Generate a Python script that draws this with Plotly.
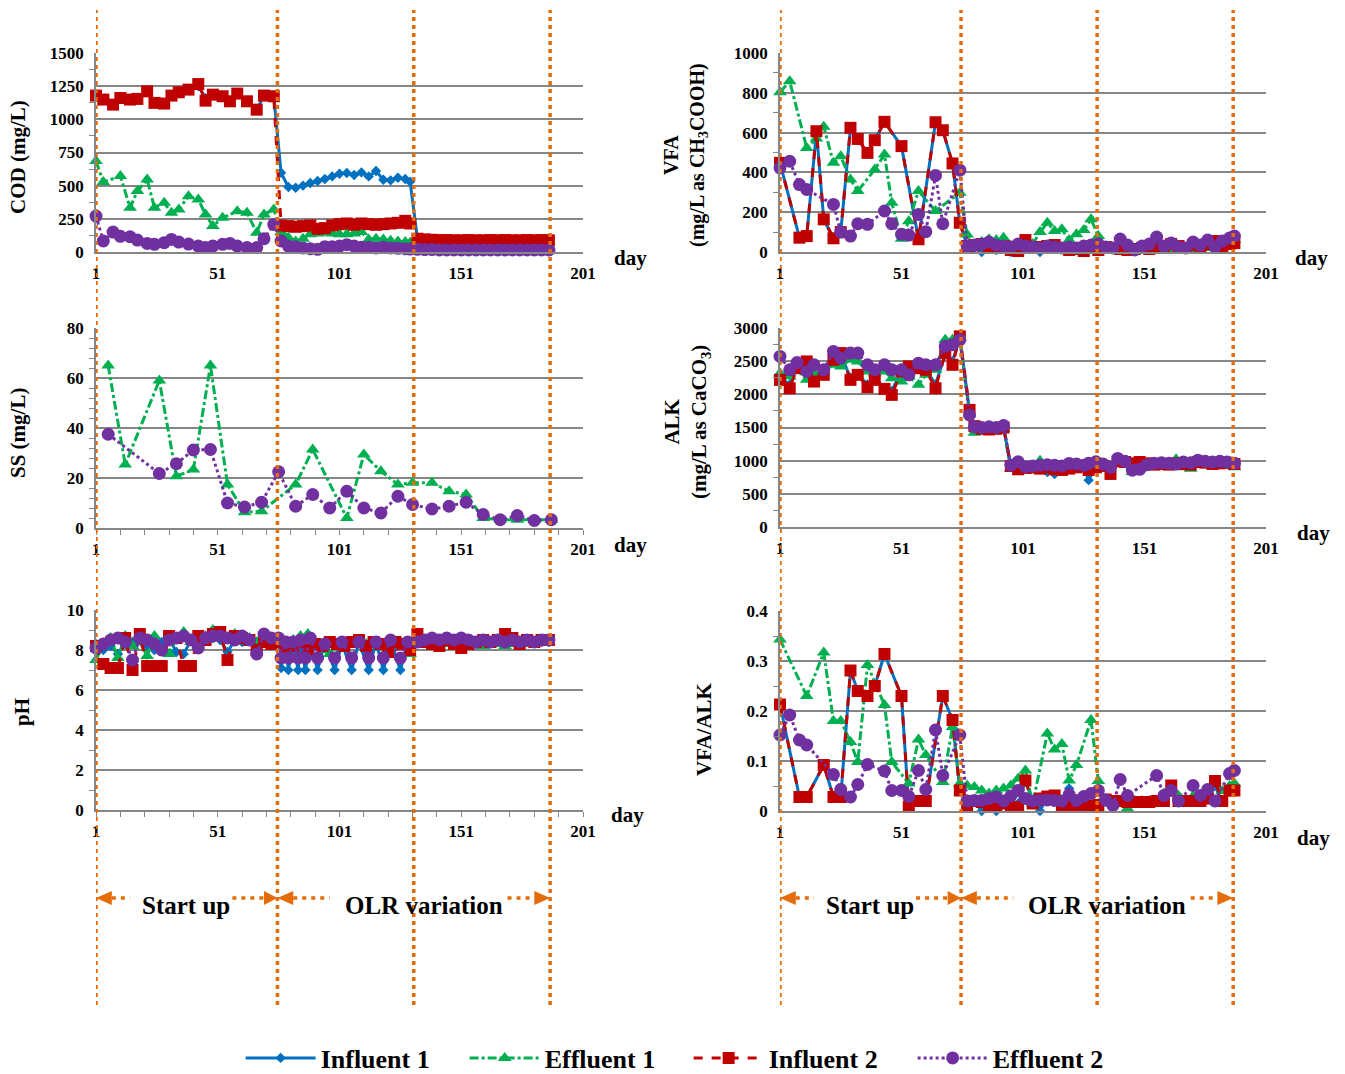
import plotly.graph_objects as go

FONT = "Liberation Serif"
BLUE, GREEN, RED, PURPLE = "#0070C0", "#00B050", "#C00000", "#7030A0"
ORANGE, GRID = "#E46C0A", "#868686"

# ---------------- COD ----------------
cod_days = [1, 4, 8, 11, 15, 18, 22, 25, 29, 32, 35, 39, 43, 46, 49, 53, 56, 59, 63, 67, 70, 74,
            77, 80, 83, 86, 89, 92, 95, 98, 101, 104, 107, 110, 113, 116, 119, 122, 125, 128, 130,
            133, 136, 139, 142, 145, 148, 151, 154, 157, 160, 163, 166, 169, 172, 175, 178, 181, 184, 187]
cod_inf1 = [1179, 1149, 1111, 1161, 1149, 1154, 1211, 1124, 1119, 1179, 1204, 1224, 1250, 1160, 1186, 1174, 1136, 1194, 1136, 1073, 1179, 1174,
            597, 490, 484, 500, 520, 535, 550, 570, 590, 595, 580, 600, 570, 610, 545, 540, 560, 550, 530,
            100, 95, 92, 90, 90, 88, 88, 90, 88, 88, 90, 88, 90, 88, 88, 90, 88, 90, 88]
cod_eff1 = [685, 527, None, 572, 334, 459, 547, 334, 371, 296, 320, 421, 396, 283, 196, 258, None, 308, 296, 145, 283, 321,
            150, 110, 80, 100, 133, 140, 145, 140, 133, 133, 140, 150, 95, 100, 95, 85, 80, 75, 70,
            30, 28, 25, 25, 22, 22, 25, 22, 20, 22, 20, 22, 20, 20, 22, 20, 20, 22, 20]
cod_inf2 = [1179, 1149, 1111, 1161, 1149, 1154, 1211, 1124, 1119, 1179, 1204, 1224, 1266, 1141, 1186, 1174, 1136, 1194, 1136, 1073, 1179, 1174,
            200, 195, 190, 195, 200, 175, 180, 200, 210, 215, 205, 215, 210, 205, 210, 215, 220, 235, 215,
            100, 95, 92, 90, 90, 88, 88, 90, 88, 88, 90, 88, 90, 88, 88, 90, 88, 90, 88]
cod_eff2 = [271, 83, 150, 118, 115, 90, 65, 58, 70, 95, 75, 60, 45, 33, 45, 58, 65, 45, 33, 33, 100, 208,
            83, 45, 40, 30, 25, 20, 40, 40, 45, 55, 45, 35, 35, 30, 35, 30, 28, 25, 22,
            20, 18, 18, 15, 15, 15, 15, 15, 15, 15, 15, 15, 15, 15, 15, 15, 15, 15, 15]

# ---------------- VFA ----------------
vfa_days = [1, 5, 9, 12, 16, 19, 23, 26, 30, 33, 37, 40, 44, 47, 51, 54, 58, 61, 65, 68, 72, 75,
            78, 81, 84, 87, 90, 93, 96, 99, 102, 105, 108, 111, 114, 117, 120, 123, 126, 129, 132,
            135, 138, 141, 144, 147, 150, 153, 156, 159, 162, 165, 168, 171, 174, 177, 180, 183, 186, 188]
vfa_inf1 = [448, None, 72, 80, 607, 164, 69, 100, 624, 568, 498, 562, 654, None, 532, None, 64, None, 652, 612, 445, 147,
            30, 20, 0, 25, 10, 30, 0, 5, 50, 20, 0, 30, 35, 20, 10, 15, 5, 20, 10,
            20, 20, 15, 10, 15, 20, 15, 30, 25, 40, 30, 20, 35, 30, 40, 55, 30, 40, 45]
vfa_eff1 = [803, 858, None, 523, 570, 630, 448, 481, 364, 306, None, 415, 490, 247, 67, 155, 306, None, 206, None, None, 298,
            88, 22, 50, 64, 60, 72, 30, 30, 25, 40, 100, 147, 105, 114, 60, 89, 110, 164, 80,
            20, 15, 10, 5, 10, 15, 20, 25, 20, 15, 30, 20, 15, 10, 20, 30, 40, 50, 60]
vfa_inf2 = [448, None, 72, 80, 607, 164, 69, 100, 624, 568, 498, 562, 654, None, 532, None, 64, None, 652, 612, 445, 147,
            30, 35, 40, 25, 20, 30, 10, 5, 60, 20, 25, 30, 35, 20, 10, 15, 5, 20, 10,
            25, 20, 15, 10, 15, 20, 15, 30, 25, 40, 30, 20, 35, 30, 40, 55, 30, 40, 45]
vfa_eff2 = [423, 456, 339, 314, None, None, 239, 100, 80, 142, 139, None, 206, 142, 89, 85, 189, 102, 385, 142, None, 411,
            30, 35, 40, 50, 35, 30, 25, 40, 30, 25, 20, 30, 25, 20, 25, 20, 30, 35, 40,
            25, 20, 65, 35, 10, 30, 40, 75, 30, 45, 25, 20, 50, 35, 60, 25, 55, 70, 80]

# ---------------- SS ----------------
ss_days = [6, 13, 20, 27, 34, 41, 48, 55, 62, 69, 76, 83, 90, 97, 104, 111, 118, 125, 131, 139, 146, 153, 160, 167, 174, 181, 188]
ss_eff1 = [65, 25.4, None, 59, 20.7, 23.4, 65, 17.4, 6.3, 6.7, None, 17.4, 31.4, None, 4, 29.4, 22.7, 17.4, 18.1, 18.1, 14.7, 13.4, 4, 3.3, 3.3, 3.3, 3.3]
ss_eff2 = [37.5, None, None, 21.8, 25.7, 31.2, 31.4, 10, 8.4, 10.3, 22.5, 8.7, 13.4, 8, 14.7, 8, 6, 12.7, 9.4, 7.6, 8.7, 10.3, 5.4, 3.3, 5, 3, 3.3]

# ---------------- ALK ----------------
alk_days = [1, 5, 8, 12, 15, 19, 23, 26, 30, 33, 37, 40, 44, 47, 51, 54, 58, 61, 65, 69, 72, 75,
            79, 81, 84, 87, 90, 93, 96, 99, 102, 105, 108, 111, 114, 117, 120, 123, 126, 128, 131,
            134, 137, 140, 143, 146, 149, 152, 155, 158, 161, 164, 167, 170, 173, 176, 179, 182, 185, 188]
alk_inf1 = [2250, 2150, 2400, 2480, 2300, 2330, 2500, 2600, 2250, 2300, 2150, 2250, 2100, 2050, 2350, 2420, 2400, 2380, 2150, 2600, 2500, 2850,
            1750, 1530, 1500, 1480, 1490, 1510, 900, 880, 900, 910, 890, 830, 800, 870, 890, 900, 910, 706, 920,
            930, 900, 980, 970, 950, 970, 950, 940, 950, 940, 960, 950, 940, 970, 960, 950, 960, 960, 950]
alk_eff1 = [2319, 2269, 2370, 2218, 2319, 2345, 2445, 2420, 2521, 2496, 2345, 2319, 2345, 2244, 2193, 2269, 2143, 2294, 2370, 2823, 2823, 2849,
            1700, 1420, 1500, 1480, 1490, 1480, 880, 900, 920, 850, 1000, 900, 880, 900, 870, 880, 920, 880, 930,
            900, 920, 960, 950, 830, 880, 920, 950, 960, 930, 1020, 900, 880, 960, 940, 950, 930, 920, 900]
alk_inf2 = [2218, 2092, 2395, 2496, 2193, 2294, 2521, 2622, 2218, 2294, 2108, 2218, 2082, 1992, 2345, 2420, 2395, 2370, 2092, 2622, 2445, 2874,
            1765, 1520, 1480, 1470, 1480, 1500, 920, 870, 890, 900, 880, 900, 870, 860, 880, 900, 920, 860, 900,
            920, 800, 990, 980, 960, 980, 960, 940, 950, 940, 960, 950, 940, 980, 970, 950, 960, 970, 950]
alk_eff2 = [2571, 2370, 2480, 2345, 2445, 2370, 2647, 2546, 2622, 2622, 2445, 2370, 2445, 2370, 2370, 2294, 2470, 2445, 2445, 2723, 2748, 2823,
            1689, 1510, 1500, 1510, 1500, 1530, 933, 983, 910, 920, 930, 940, 930, 920, 958, 950, 930, 960, 983,
            950, 900, 1034, 990, 857, 870, 940, 960, 970, 960, 950, 980, 970, 1008, 990, 980, 990, 980, 960]

# ---------------- pH ----------------
ph_days_start = [1, 4, 7, 10, 13, 16, 19, 22, 25, 28, 31, 34, 37, 40, 43, 46, 49, 52, 55, 58, 61, 64, 67, 70, 73]
ph_days_olr = [76, 79, 82, 85, 88, 91, 94, 97, 100, 103, 106, 109, 112, 115, 118, 121, 124, 127, 130]
ph_days_olr_dips = [76, 77, 79, 80, 82, 84, 85, 87, 89, 92, 95, 99, 102, 106, 109, 113, 116, 119, 122, 126, 129]
ph_days_end = [133, 136, 139, 142, 145, 148, 151, 154, 157, 160, 163, 166, 169, 172, 175, 178, 181, 184, 187]
ph_inf1 = [8.3, 8.0, 8.2, 7.8, 8.3, 8.4, 8.5, 8.2, 8.0, 8.4, 8.6, 7.9, 7.8, 8.5, 8.6, 8.7, 8.6, 8.5, 7.9, 8.5, 8.4, 8.6, 8.2, 8.6, 8.4,
           8.5, 7.1, 8.3, 7.0, 8.3, 7.0, 8.3, 7.0, 8.4, 7.0, 8.4, 7.0, 8.3, 7.0, 8.4, 7.0, 8.4, 7.0, 8.4, 7.0, 8.4,
           8.4, 8.4, 8.4, 8.3, 8.4, 8.4, 8.4, 8.4, 8.3, 8.4, 8.4, 8.4, 8.4, 8.4, 8.4, 8.4, 8.4, 8.4, 8.4]
ph_eff1 = [7.5, 8.3, 8.6, 7.6, 8.7, 8.2, 8.4, 7.7, 8.7, 8.0, 7.8, 8.6, 8.9, 8.4, 8.7, 8.5, 9.0, 8.8, 8.6, 8.8, 8.7, 8.6, 8.4, 8.7, 8.6,
           8.6, 8.4, 8.5, 8.7, 8.8, 8.2, 8.0, 7.8, 8.3, 8.1, 8.4, 8.5, 8.3, 8.4, 8.2, 8.3, 8.2, 8.3, 7.8,
           8.3, 8.4, 8.5, 8.4, 8.3, 8.4, 8.3, 8.4, 8.3, 8.2, 8.3, 8.3, 8.2, 8.3, 8.4, 8.3, 8.4, 8.4, 8.4]
ph_inf2 = [8.2, 7.3, 7.1, 7.1, 8.6, 7.0, 8.8, 7.2, 7.2, 7.2, 8.7, 8.6, 7.2, 7.2, 8.7, 8.5, 8.8, 8.9, 7.5, 8.7, 8.6, 8.5, 8.0, 8.4, 8.3,
           8.4, 7.8, 8.2, 8.4, 8.0, 8.3, 8.2, 8.4, 8.3, 8.2, 8.4, 8.5, 8.2, 8.4, 8.3, 7.9, 8.4, 8.3, 8.0,
           8.8, 8.4, 8.3, 8.2, 8.5, 8.3, 8.1, 8.3, 8.4, 8.5, 8.4, 8.5, 8.8, 8.6, 8.3, 8.5, 8.4, 8.5, 8.5]
ph_eff2 = [8.1, 8.3, 8.5, 8.6, 8.4, 7.5, 8.6, 8.5, 8.3, 8.0, 8.5, 8.6, 8.7, 8.5, 8.1, 8.6, 8.7, 8.7, 8.6, 8.5, 8.7, 8.5, 7.8, 8.8, 8.6,
           8.6, 7.6, 8.4, 7.6, 8.4, 7.6, 8.5, 7.6, 8.6, 7.6, 8.3, 7.6, 8.4, 7.6, 8.4, 7.6, 8.4, 7.6, 8.5, 7.6, 8.4,
           8.4, 8.5, 8.6, 8.5, 8.6, 8.5, 8.6, 8.5, 8.4, 8.5, 8.4, 8.5, 8.4, 8.5, 8.4, 8.5, 8.4, 8.5, 8.5]

# ---------------- VFA/ALK ----------------
va_days = vfa_days
va_inf1 = [0.213, None, 0.028, 0.028, None, 0.092, 0.028, 0.028, 0.281, 0.240, 0.230, 0.250, 0.314, None, 0.230, 0.009, 0.020, 0.020, None, 0.230, 0.182, 0.041,
           0.010, 0.020, 0.000, 0.015, 0.000, 0.020, 0.010, 0.015, 0.060, 0.020, 0.000, 0.029, 0.031, 0.015, 0.045, 0.015, 0.020, 0.010, 0.015,
           0.020, 0.018, 0.020, 0.018, 0.020, 0.020, 0.020, 0.018, 0.020, 0.045, 0.030, 0.020, 0.020, 0.025, 0.030, 0.050, 0.020, 0.045, 0.040]
va_eff1 = [0.343, None, None, 0.230, None, 0.317, 0.180, 0.180, 0.138, 0.098, 0.292, None, 0.212, 0.098, None, 0.055, 0.143, 0.112, None, 0.058, 0.168, 0.055,
           0.051, 0.048, 0.041, 0.035, 0.041, 0.045, 0.051, 0.065, 0.081, 0.015, None, 0.155, 0.123, 0.134, 0.061, 0.092, None, 0.182, 0.060,
           0.015, 0.020, 0.020, 0.005, 0.020, 0.020, 0.020, 0.020, 0.035, 0.040, 0.030, 0.020, 0.030, 0.030, 0.040, 0.060, 0.040, 0.050, 0.055]
va_inf2 = [0.213, None, 0.028, 0.028, None, 0.092, 0.028, 0.028, 0.281, 0.240, 0.230, 0.250, 0.314, None, 0.230, 0.009, 0.020, 0.020, None, 0.230, 0.182, 0.041,
           0.008, 0.020, 0.018, 0.008, 0.010, 0.015, 0.008, 0.008, 0.061, 0.015, 0.025, 0.029, 0.031, 0.008, 0.012, 0.008, 0.008, 0.010, 0.012,
           0.023, 0.020, 0.020, 0.018, 0.018, 0.018, 0.018, 0.020, 0.020, 0.051, 0.020, 0.020, 0.020, 0.020, 0.025, 0.060, 0.020, 0.041, 0.041]
va_eff2 = [0.152, 0.192, 0.142, 0.132, None, None, 0.073, 0.043, 0.028, 0.053, 0.093, None, 0.080, 0.041, 0.041, 0.029, 0.081, 0.043, 0.162, 0.071, None, 0.152,
           0.020, 0.021, 0.021, 0.025, 0.028, 0.020, 0.030, 0.041, 0.025, 0.020, 0.021, 0.022, 0.021, 0.020, 0.033, 0.021, 0.029, 0.035, 0.041,
           0.022, 0.011, 0.063, 0.031, None, None, None, 0.071, 0.031, 0.041, 0.020, None, 0.051, 0.031, 0.043, 0.020, None, 0.075, 0.081]

phase_days = [1, 75.5, 131.5, 187.5]
x_ticks = [1, 51, 101, 151, 201]

styles = {
    "Influent 1": dict(color=BLUE, dash="solid", symbol="diamond", size=8),
    "Effluent 1": dict(color=GREEN, dash="dashdot", symbol="triangle-up", size=12),
    "Influent 2": dict(color=RED, dash="dash", symbol="square", size=12),
    "Effluent 2": dict(color=PURPLE, dash="dot", symbol="circle", size=13),
}

fig = go.Figure()


def add(x, y, name, n, legend=False):
    s = styles[name]
    fig.add_trace(go.Scatter(
        x=x, y=y, name=name, mode="lines+markers", connectgaps=True, cliponaxis=False,
        xaxis="x" + ("" if n == 1 else str(n)), yaxis="y" + ("" if n == 1 else str(n)),
        showlegend=legend, legendgroup=name,
        line=dict(color=s["color"], dash=s["dash"], width=3),
        marker=dict(color=s["color"], symbol=s["symbol"], size=s["size"])))


names = ["Influent 1", "Effluent 1", "Influent 2", "Effluent 2"]
for nm, ys in zip(names, [cod_inf1, cod_eff1, cod_inf2, cod_eff2]):
    add(cod_days, ys, nm, 1, legend=True)
for nm, ys in zip(names, [vfa_inf1, vfa_eff1, vfa_inf2, vfa_eff2]):
    add(vfa_days, ys, nm, 2)
add(ss_days, ss_eff1, "Effluent 1", 3)
add(ss_days, ss_eff2, "Effluent 2", 3)
for nm, ys in zip(names, [alk_inf1, alk_eff1, alk_inf2, alk_eff2]):
    add(alk_days, ys, nm, 4)
ph_x_a = ph_days_start + ph_days_olr + ph_days_end
ph_x_b = ph_days_start + ph_days_olr_dips + ph_days_end
add(ph_x_b, ph_inf1, "Influent 1", 5)
add(ph_x_a, ph_eff1, "Effluent 1", 5)
add(ph_x_a, ph_inf2, "Influent 2", 5)
add(ph_x_b, ph_eff2, "Effluent 2", 5)
for nm, ys in zip(names, [va_inf1, va_eff1, va_inf2, va_eff2]):
    add(va_days, ys, nm, 6)

W, H = 1345, 1074
tickfont = dict(family=FONT, size=17, color="black", weight="bold")
left_dom = [96 / W, 583 / W]
right_dom = [780 / W, 1266 / W]


def ydom(top, bot):
    return [1 - bot / H, 1 - top / H]


def xaxis(dom, anchor, minor=False):
    d = dict(domain=dom, anchor=anchor, range=[1, 201], tickmode="array", tickvals=x_ticks,
             ticktext=[str(v) for v in x_ticks], showgrid=False, zeroline=False, automargin=False,
             showline=True, linecolor=GRID, linewidth=1.5, ticks="", tickfont=tickfont,
             ticklabelstandoff=5)
    if minor:
        d["minor"] = dict(ticks="outside", ticklen=5, tickcolor=GRID, dtick=10, tick0=1, showgrid=False)
    return d


def yaxis(dom, anchor, rng, dtick, minor_dtick):
    return dict(domain=dom, anchor=anchor, range=rng, dtick=dtick, tick0=0, showgrid=True,
                gridcolor=GRID, gridwidth=1.5, zeroline=False, showline=True, linecolor=GRID,
                linewidth=1.5, ticks="", tickfont=tickfont, ticklabelstandoff=7, automargin=False,
                minor=dict(ticks="outside", ticklen=5, tickcolor=GRID, dtick=minor_dtick, showgrid=False))


fig.update_layout(
    width=W, height=H, margin=dict(l=0, r=0, t=0, b=0, autoexpand=False),
    plot_bgcolor="white", paper_bgcolor="white",
    xaxis=xaxis(left_dom, "y"),
    yaxis=yaxis(ydom(53, 252), "x", [0, 1500], 250, 125),
    xaxis2=xaxis(right_dom, "y2"),
    yaxis2=yaxis(ydom(53, 252), "x2", [0, 1000], 200, 100),
    xaxis3=xaxis(left_dom, "y3", minor=True),
    yaxis3=yaxis(ydom(328, 528), "x3", [0, 80], 20, 4),
    xaxis4=xaxis(right_dom, "y4"),
    yaxis4=yaxis(ydom(328, 527), "x4", [0, 3000], 500, 250),
    xaxis5=xaxis(left_dom, "y5", minor=True),
    yaxis5=yaxis(ydom(610, 810), "x5", [0, 10], 2, 1),
    xaxis6=xaxis(right_dom, "y6"),
    yaxis6=yaxis(ydom(611, 811), "x6", [0, 0.4], 0.1, 0.05),
    legend=dict(orientation="h", x=0.512, xanchor="center",
                y=1 - 1058 / H, yanchor="middle",
                font=dict(family=FONT, size=26, color="black", weight="bold"),
                itemwidth=70, entrywidth=139, traceorder="normal", bgcolor="rgba(0,0,0,0)"),
    font=dict(family=FONT, color="black"),
)

# y-axis titles and "day" labels
ann = []
for txt, px, py, fs in [("COD (mg/L)", 18, 157, 21), ("SS (mg/L)", 18, 433, 21), ("pH", 22, 712, 21),
                        ("VFA<br>(mg/L as CH<sub>3</sub>COOH)", 686, 155, 20),
                        ("ALK<br>(mg/L as CaCO<sub>3</sub>)", 687, 422, 21),
                        ("VFA/ALK", 704, 729, 21)]:
    ann.append(dict(text=txt, x=px / W, y=1 - py / H, xref="paper", yref="paper",
                    textangle=-90, showarrow=False, xanchor="center", yanchor="middle",
                    font=dict(family=FONT, size=fs, color="black", weight="bold")))
for px, py in [(630, 258), (630, 545), (627, 815), (1311, 258), (1313, 533), (1313, 838)]:
    ann.append(dict(text="day", x=px / W, y=1 - py / H, xref="paper", yref="paper",
                    showarrow=False, xanchor="center", yanchor="middle",
                    font=dict(family=FONT, size=21, color="black", weight="bold")))

phase_labels = [("Start up", 38), ("OLR variation", 135.5)]
arrow_segments = [(7.5, 15), (57, 70), (82, 97), (170, 181)]
arrow_heads = [(1, 7.5), (75.5, 70), (75.5, 82), (187.5, 181)]
y_line = 1 - 898 / H
y_text = 1 - 905 / H
hh = 7 / H

shapes = []
for xr in ["x", "x2"]:
    for d in phase_days:
        shapes.append(dict(type="line", xref=xr, yref="paper", x0=d, x1=d, y0=1 - 1005 / H, y1=1 - 10 / H,
                           line=dict(color=ORANGE, width=3.5, dash="4px,4px")))
    for a, b in arrow_segments:
        shapes.append(dict(type="line", xref=xr, yref="paper", x0=a, x1=b, y0=y_line, y1=y_line,
                           line=dict(color=ORANGE, width=3.5, dash="4px,5px")))
    for tip, base in arrow_heads:
        shapes.append(dict(type="path", xref=xr, yref="paper",
                           path=f"M {tip},{y_line} L {base},{y_line + hh} L {base},{y_line - hh} Z",
                           fillcolor=ORANGE, line=dict(color=ORANGE, width=0)))
    for txt, d in phase_labels:
        ann.append(dict(text=txt, x=d, y=y_text, xref=xr, yref="paper", showarrow=False,
                        xanchor="center", yanchor="middle",
                        font=dict(family=FONT, size=25, color="black", weight="bold")))

fig.update_layout(annotations=ann, shapes=shapes)
fig.write_html("out.html", config={"displayModeBar": False},
               post_script="document.body.style.margin='0px';document.body.style.overflow='hidden';")
